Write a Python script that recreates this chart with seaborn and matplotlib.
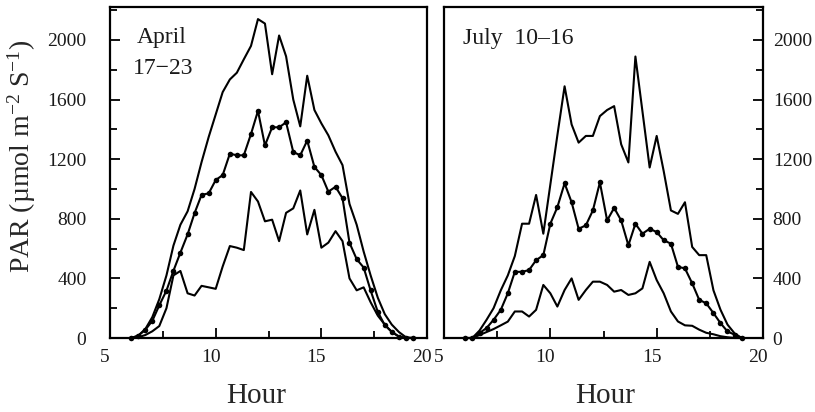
import numpy as np
import pandas as pd
import matplotlib
matplotlib.use("Agg")
import matplotlib.pyplot as plt
import seaborn as sns
from matplotlib.ticker import MultipleLocator
from matplotlib.transforms import ScaledTranslation

# Sampling times (hour of day, 20-minute steps)
hours = [6.00, 6.33, 6.67, 7.00, 7.33, 7.67, 8.00, 8.33, 8.67, 9.00, 9.33,
         9.67, 10.00, 10.33, 10.67, 11.00, 11.33, 11.67, 12.00, 12.33, 12.67,
         13.00, 13.33, 13.67, 14.00, 14.33, 14.67, 15.00, 15.33, 15.67, 16.00,
         16.33, 16.67, 17.00, 17.33, 17.67, 18.00, 18.33, 18.67, 19.00, 19.33]

# April 17-23: weekly maximum, mean and minimum PAR
april_max = [0, 15, 60, 140, 260, 420, 620, 760, 850, 1000, 1180,
             1350, 1500, 1650, 1735, 1780, 1870, 1960, 2140, 2110, 1770,
             2030, 1890, 1600, 1420, 1760, 1530, 1440, 1360, 1250, 1160,
             900, 760, 580, 420, 270, 160, 90, 40, 5, 0]
april_mean = [0, 15, 55, 115, 219, 318, 451, 573, 695, 838, 960,
              971, 1060, 1093, 1237, 1226, 1226, 1369, 1524, 1292, 1414,
              1414, 1447, 1248, 1226, 1325, 1148, 1093, 982, 1015, 938,
              639, 529, 473, 319, 175, 86, 42, 9, 0, 0]
april_min = [0, 5, 20, 45, 80, 200, 420, 450, 300, 285, 350,
             340, 330, 480, 617, 606, 590, 980, 916, 783, 794,
             650, 840, 870, 990, 695, 860, 606, 640, 717, 650,
             400, 320, 340, 240, 150, 90, 40, 10, 0, 0]

# July 10-16: weekly maximum, mean and minimum PAR
july_max = [0, 0, 50, 122, 200, 320, 420, 550, 767, 767, 960,
            700, 1030, 1360, 1689, 1433, 1311, 1356, 1356, 1489, 1530,
            1556, 1300, 1178, 1889, 1522, 1144, 1356, 1120, 856, 833,
            911, 611, 556, 556, 320, 190, 90, 30, 0, np.nan]
july_mean = [0, 0, 33, 67, 122, 189, 300, 444, 444, 456, 522,
             556, 767, 878, 1038, 911, 733, 756, 856, 1044, 789,
             873, 789, 622, 767, 700, 733, 711, 656, 633, 478,
             467, 367, 256, 233, 167, 100, 44, 22, 0, np.nan]
july_min = [0, 0, 20, 40, 60, 85, 110, 178, 178, 144, 189,
            356, 300, 211, 322, 400, 256, 322, 378, 378, 356,
            311, 322, 289, 300, 333, 511, 389, 300, 178, 111,
            85, 82, 56, 35, 25, 12, 5, 0, 0, np.nan]

x_ticks = [5, 10, 15, 20]
y_ticks = [0, 400, 800, 1200, 1600, 2000]
panel_titles = [["April", "17\u221223"], ["July  10\u201316"]]

sns.set_theme(style="ticks")
plt.rcParams["font.family"] = ["Liberation Serif", "DejaVu Serif"]
plt.rcParams.update({
    "mathtext.fontset": "custom",
    "mathtext.rm": "Liberation Serif",
    "mathtext.it": "Liberation Serif:italic",
    "mathtext.default": "regular",
    "axes.linewidth": 1.6,
    "axes.edgecolor": "black",
    "text.color": "#1a1a1a",
    "xtick.color": "black",
    "ytick.color": "black",
    "xtick.labelcolor": "#1a1a1a",
    "ytick.labelcolor": "#1a1a1a",
})

frames = []
for period, series in [("April", (april_max, april_mean, april_min)),
                       ("July", (july_max, july_mean, july_min))]:
    for stat, vals in zip(["max", "mean", "min"], series):
        frames.append(pd.DataFrame({"Hour": hours, "PAR": vals,
                                    "stat": stat, "period": period}))
df = pd.concat(frames, ignore_index=True)

fig = plt.figure(figsize=(8.15, 4.12), dpi=100)
ax_l = fig.add_axes([0.135, 0.1796, 0.389, 0.803])
ax_r = fig.add_axes([0.5448, 0.1796, 0.3914, 0.803])

for ax, period in [(ax_l, "April"), (ax_r, "July")]:
    for stat in ["max", "mean", "min"]:
        sub = df[(df["period"] == period) & (df["stat"] == stat)].dropna()
        kw = dict(marker="o", markersize=4, markeredgewidth=0) if stat == "mean" else {}
        sns.lineplot(data=sub, x="Hour", y="PAR", ax=ax, color="black",
                     linewidth=1.5, estimator=None, sort=False,
                     clip_on=False, **kw)
    ax.set_xlim(5, 20)
    ax.set_ylim(0, 2220)
    ax.set_xticks(x_ticks)
    ax.xaxis.set_minor_locator(MultipleLocator(2.5))
    ax.set_yticks(y_ticks)
    ax.yaxis.set_minor_locator(MultipleLocator(200))
    ax.tick_params(which="both", direction="in", top=False, width=1.3,
                   labelsize=14)
    ax.tick_params(which="major", length=7)
    ax.tick_params(which="minor", length=5)
    ax.tick_params(axis="x", pad=8)
    ax.set_ylabel("")
    ax.set_xlabel("Hour", fontsize=21)
    for spine in ax.spines.values():
        spine.set_visible(True)
        spine.set_linewidth(1.6)

# left panel: y ticks on the left only
ax_l.tick_params(axis="y", which="both", left=True, right=False,
                 labelleft=True, labelright=False, pad=17)
# right panel: y ticks on the right only
ax_r.yaxis.tick_right()
ax_r.tick_params(axis="y", which="both", left=False, right=True,
                 labelleft=False, labelright=True, pad=7)

ax_l.xaxis.set_label_coords(0.46, -0.135)
ax_r.xaxis.set_label_coords(0.505, -0.135)

ax_l.set_ylabel("PAR (\u00b5mol m$^{-2}$ S$^{-1}$)", fontsize=20)
ax_l.yaxis.label.set_verticalalignment("center")
ax_l.yaxis.set_label_coords(-0.28, 0.55)

shift = ScaledTranslation(-5 / 100, 0, fig.dpi_scale_trans)
for ax in (ax_l, ax_r):
    for lab in ax.get_xticklabels():
        lab.set_transform(lab.get_transform() + shift)

ax_l.text(0.164, 0.891, panel_titles[0][0], transform=ax_l.transAxes,
          ha="center", va="baseline", fontsize=17)
ax_l.text(0.168, 0.798, panel_titles[0][1], transform=ax_l.transAxes,
          ha="center", va="baseline", fontsize=17)
ax_r.text(0.06, 0.888, panel_titles[1][0], transform=ax_r.transAxes,
          ha="left", va="baseline", fontsize=17)

fig.savefig("out.png", dpi=100)
